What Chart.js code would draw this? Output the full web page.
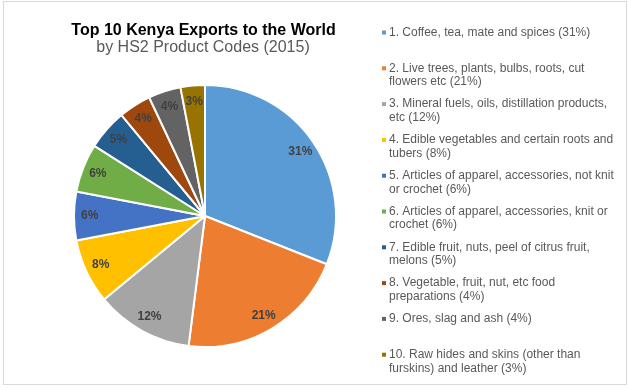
<!DOCTYPE html>
<html>
<head>
<meta charset="utf-8">
<script src="https://cdn.jsdelivr.net/npm/chart.js@4.4.0/dist/chart.umd.min.js"></script>
<style>
  html, body { margin: 0; padding: 0; background: #ffffff; }
  #wrap { width: 629px; height: 390px; position: relative; }
</style>
</head>
<body>
<div id="wrap"><canvas id="c" width="629" height="390"></canvas></div>
<script>
// ---- data ----
const chartTitle = 'Top 10 Kenya Exports to the World';
const chartSubtitle = 'by HS2 Product Codes (2015)';
const categories = [
  '1. Coffee, tea, mate and spices',
  '2. Live trees, plants, bulbs, roots, cut flowers etc',
  '3. Mineral fuels, oils, distillation products, etc',
  '4. Edible vegetables and certain roots and tubers',
  '5. Articles of apparel, accessories, not knit or crochet',
  '6. Articles of apparel, accessories, knit or crochet',
  '7. Edible fruit, nuts, peel of citrus fruit, melons',
  '8. Vegetable, fruit, nut, etc food preparations',
  '9. Ores, slag and ash',
  '10. Raw hides and skins (other than furskins) and leather'
];
const shares = [31, 21, 12, 8, 6, 6, 5, 4, 4, 3];
const legendLines = [
  ['1. Coffee, tea, mate and spices (31%)'],
  ['2. Live trees, plants, bulbs, roots, cut', 'flowers etc (21%)'],
  ['3. Mineral fuels, oils, distillation products,', 'etc (12%)'],
  ['4. Edible vegetables and certain roots and', 'tubers (8%)'],
  ['5. Articles of apparel, accessories, not knit', 'or crochet (6%)'],
  ['6. Articles of apparel, accessories, knit or', 'crochet (6%)'],
  ['7. Edible fruit, nuts, peel of citrus fruit,', 'melons (5%)'],
  ['8. Vegetable, fruit, nut, etc food', 'preparations (4%)'],
  ['9. Ores, slag and ash (4%)'],
  ['10. Raw hides and skins (other than', 'furskins) and leather (3%)']
];
const sliceColors = ['#5B9BD5', '#ED7D31', '#A5A5A5', '#FFC000', '#4472C4',
                     '#70AD47', '#255E91', '#9E480E', '#636363', '#997300'];

const FONT = '"Liberation Sans", Arial, sans-serif';

const decorPlugin = {
  id: 'decor',
  beforeDraw(chart) {
    const ctx = chart.ctx;
    ctx.save();
    ctx.fillStyle = '#ffffff';
    ctx.fillRect(0, 0, chart.width, chart.height);
    ctx.strokeStyle = '#D9D9D9';
    ctx.lineWidth = 1;
    ctx.strokeRect(3.5, 1.5, 623, 383);
    ctx.restore();
  },
  afterDatasetsDraw(chart) {
    const ctx = chart.ctx;
    ctx.save();
    // titles
    ctx.textAlign = 'center';
    ctx.textBaseline = 'alphabetic';
    ctx.fillStyle = '#000000';
    ctx.font = 'bold 16px ' + FONT;
    ctx.fillText(chartTitle, 203.5, 35);
    ctx.fillStyle = '#595959';
    ctx.font = '16px ' + FONT;
    ctx.fillText(chartSubtitle, 203, 52);

    // data labels
    const meta = chart.getDatasetMeta(0);
    ctx.font = 'bold 12px ' + FONT;
    ctx.fillStyle = '#404040';
    ctx.textAlign = 'center';
    ctx.textBaseline = 'middle';
    meta.data.forEach((arc, i) => {
      const p = arc.getProps(['startAngle', 'endAngle', 'outerRadius', 'x', 'y'], true);
      const mid = (p.startAngle + p.endAngle) / 2;
      const r = p.outerRadius * 0.88;
      ctx.fillText(shares[i] + '%', p.x + Math.cos(mid) * r, p.y + Math.sin(mid) * r);
    });

    // legend
    ctx.font = '12px ' + FONT;
    ctx.textAlign = 'left';
    ctx.textBaseline = 'middle';
    const step = 35.8, lineH = 13.5, y0 = 32.5;
    legendLines.forEach((lines, i) => {
      const y = y0 + i * step;
      ctx.fillStyle = sliceColors[i];
      ctx.fillRect(382, y - 2, 4, 4);
      ctx.fillStyle = '#595959';
      lines.forEach((t, j) => ctx.fillText(t, 389, y + j * lineH));
    });
    ctx.restore();
  }
};

new Chart(document.getElementById('c'), {
  type: 'pie',
  data: {
    labels: categories,
    datasets: [{
      data: shares,
      backgroundColor: sliceColors,
      borderColor: '#ffffff',
      borderWidth: 2
    }]
  },
  options: {
    responsive: false,
    animation: false,
    layout: { padding: { left: 73, right: 292, top: 84, bottom: 42 } },
    plugins: {
      legend: { display: false },
      title: { display: false },
      tooltip: { enabled: false }
    }
  },
  plugins: [decorPlugin]
});
</script>
</body>
</html>
